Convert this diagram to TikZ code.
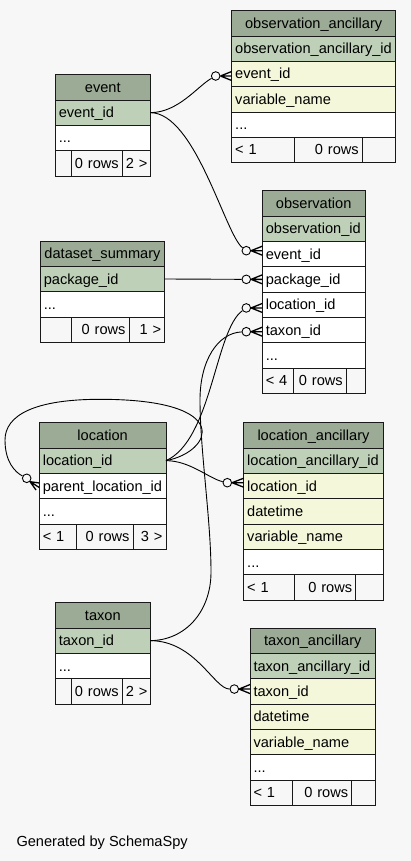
\documentclass[tikz,border=0pt]{standalone}
\usepackage{fontspec}
\setmainfont{Liberation Sans}
\usetikzlibrary{calc}

\definecolor{bg}{HTML}{F7F7F7}
\definecolor{hdr}{HTML}{9BAB96}
\definecolor{pk}{HTML}{BED1B8}
\definecolor{fk}{HTML}{F4F7DA}

\tikzset{
  cell/.style={draw=black!90, line width=0.9pt, inner xsep=3.5pt, inner ysep=0pt,
    text height=10.5pt, text depth=0.5pt, outer sep=0pt,
    font=\fontsize{14.6pt}{16pt}\selectfont},
  head/.style={cell, fill=hdr},
  key/.style={cell, fill=pk},
  fkey/.style={cell, fill=fk},
  plain/.style={cell, fill=white},
  foot/.style={cell, fill=bg},
  rel/.style={draw=black, line width=0.9pt},
  crowarm/.style={draw=black, line width=1.3pt},
  dot/.style={circle, draw=black, line width=0.9pt, fill=bg, minimum size=8.6pt, inner sep=0pt},
}

% one table cell: name, left, top, right, bottom, style, alignment, text
\newcommand\erdcell[8]{%
  \pgfmathsetmacro\erdw{#4-(#2)}%
  \pgfmathsetmacro\erdh{#5-(#3)}%
  \pgfmathsetmacro\erdtw{#4-(#2)-7}%
  \node[#6, minimum width=\erdw pt, minimum height=\erdh pt, text width=\erdtw pt, align=#7]
    (#1) at ({(#2+#4)/2},{(#3+#5)/2}) {\mbox{#8}};%
}

% crow's foot between a circle node and the column it points at
\newcommand\erdcrow[2]{%
  \draw[crowarm] (#1.east) -- (#1.east -| #2.west)
    (#1.east) -- ($(#1.east -| #2.west)+(0,-4.5)$)
    (#1.east) -- ($(#1.east -| #2.west)+(0,4.5)$);%
}

\begin{document}
\begin{tikzpicture}[x=1pt, y=-1pt]
\fill[bg] (0,0) rectangle (411,861);
\useasboundingbox (0,0) rectangle (411,861);

% observation_ancillary
\erdcell{oa-h}{231.7}{10.7}{395.7}{36}{head}{center}{observation\_ancillary}
\erdcell{oa-id}{231.7}{36}{395.7}{61.3}{key}{left}{observation\_ancillary\_id}
\erdcell{oa-event}{231.7}{61.3}{395.7}{86.7}{fkey}{left}{event\_id}
\erdcell{oa-var}{231.7}{86.7}{395.7}{112}{fkey}{left}{variable\_name}
\erdcell{oa-more}{231.7}{112}{395.7}{137.3}{plain}{left}{...}
\erdcell{oa-f1}{231.7}{137.3}{294}{162.7}{foot}{left}{< 1}
\erdcell{oa-f2}{294}{137.3}{362.3}{162.7}{foot}{right}{0 rows}
\erdcell{oa-f3}{362.3}{137.3}{395.7}{162.7}{foot}{right}{}

% event
\erdcell{ev-h}{55.3}{74.7}{150.3}{100}{head}{center}{event}
\erdcell{ev-id}{55.3}{100}{150.3}{125.3}{key}{left}{event\_id}
\erdcell{ev-more}{55.3}{125.3}{150.3}{150.7}{plain}{left}{...}
\erdcell{ev-f1}{55.3}{150.7}{71.3}{176}{foot}{left}{}
\erdcell{ev-f2}{71.3}{150.7}{122.3}{176}{foot}{right}{0 rows}
\erdcell{ev-f3}{122.3}{150.7}{150.3}{176}{foot}{right}{2 >}

% observation
\erdcell{ob-h}{262.3}{190.7}{365}{216}{head}{center}{observation}
\erdcell{ob-id}{262.3}{216}{365}{241.3}{key}{left}{observation\_id}
\erdcell{ob-event}{262.3}{241.3}{365}{266.7}{plain}{left}{event\_id}
\erdcell{ob-pkg}{262.3}{266.7}{365}{292}{plain}{left}{package\_id}
\erdcell{ob-loc}{262.3}{292}{365}{317.3}{plain}{left}{location\_id}
\erdcell{ob-tax}{262.3}{317.3}{365}{342.7}{plain}{left}{taxon\_id}
\erdcell{ob-more}{262.3}{342.7}{365}{368}{plain}{left}{...}
\erdcell{ob-f1}{262.3}{368}{293.7}{393.3}{foot}{left}{< 4}
\erdcell{ob-f2}{293.7}{368}{346.3}{393.3}{foot}{right}{0 rows}
\erdcell{ob-f3}{346.3}{368}{365}{393.3}{foot}{right}{}

% dataset_summary
\erdcell{ds-h}{40.3}{241}{164.7}{266.3}{head}{center}{dataset\_summary}
\erdcell{ds-pkg}{40.3}{266.3}{164.7}{291.7}{key}{left}{package\_id}
\erdcell{ds-more}{40.3}{291.7}{164.7}{317}{plain}{left}{...}
\erdcell{ds-f1}{40.3}{317}{71.3}{342.3}{foot}{left}{}
\erdcell{ds-f2}{71.3}{317}{129}{342.3}{foot}{right}{0 rows}
\erdcell{ds-f3}{129}{317}{164.7}{342.3}{foot}{right}{1 >}

% location
\erdcell{lo-h}{39.3}{422.7}{166}{448}{head}{center}{location}
\erdcell{lo-id}{39.3}{448}{166}{473.3}{key}{left}{location\_id}
\erdcell{lo-parent}{39.3}{473.3}{166}{498.7}{plain}{left}{parent\_location\_id}
\erdcell{lo-more}{39.3}{498.7}{166}{524}{plain}{left}{...}
\erdcell{lo-f1}{39.3}{524}{76.7}{549.3}{foot}{left}{< 1}
\erdcell{lo-f2}{76.7}{524}{133}{549.3}{foot}{right}{0 rows}
\erdcell{lo-f3}{133}{524}{166}{549.3}{foot}{right}{3 >}

% location_ancillary
\erdcell{la-h}{243.7}{422.7}{383.3}{448}{head}{center}{location\_ancillary}
\erdcell{la-id}{243.7}{448}{383.3}{473.3}{key}{left}{location\_ancillary\_id}
\erdcell{la-loc}{243.7}{473.3}{383.3}{498.7}{fkey}{left}{location\_id}
\erdcell{la-dt}{243.7}{498.7}{383.3}{524}{fkey}{left}{datetime}
\erdcell{la-var}{243.7}{524}{383.3}{549.3}{fkey}{left}{variable\_name}
\erdcell{la-more}{243.7}{549.3}{383.3}{574.7}{plain}{left}{...}
\erdcell{la-f1}{243.7}{574.7}{294}{600}{foot}{left}{< 1}
\erdcell{la-f2}{294}{574.7}{355.7}{600}{foot}{right}{0 rows}
\erdcell{la-f3}{355.7}{574.7}{383.3}{600}{foot}{right}{}

% taxon
\erdcell{tx-h}{55.3}{602.7}{150.3}{628}{head}{center}{taxon}
\erdcell{tx-id}{55.3}{628}{150.3}{653.3}{key}{left}{taxon\_id}
\erdcell{tx-more}{55.3}{653.3}{150.3}{678.7}{plain}{left}{...}
\erdcell{tx-f1}{55.3}{678.7}{71.3}{704}{foot}{left}{}
\erdcell{tx-f2}{71.3}{678.7}{122.3}{704}{foot}{right}{0 rows}
\erdcell{tx-f3}{122.3}{678.7}{150.3}{704}{foot}{right}{2 >}

% taxon_ancillary
\erdcell{ta-h}{250}{628}{375.7}{653.3}{head}{center}{taxon\_ancillary}
\erdcell{ta-id}{250}{653.3}{375.7}{678.7}{key}{left}{taxon\_ancillary\_id}
\erdcell{ta-tax}{250}{678.7}{375.7}{704}{fkey}{left}{taxon\_id}
\erdcell{ta-dt}{250}{704}{375.7}{729.3}{fkey}{left}{datetime}
\erdcell{ta-var}{250}{729.3}{375.7}{754.7}{fkey}{left}{variable\_name}
\erdcell{ta-more}{250}{754.7}{375.7}{780}{plain}{left}{...}
\erdcell{ta-f1}{250}{780}{292.7}{805.3}{foot}{left}{< 1}
\erdcell{ta-f2}{292.7}{780}{351.7}{805.3}{foot}{right}{0 rows}
\erdcell{ta-f3}{351.7}{780}{375.7}{805.3}{foot}{right}{}

% optional-many markers
\node[dot] (d1) at ($(oa-event.west)+(-16,2)$) {};
\node[dot] (d2) at ($(ob-event.west)+(-16,-3.3)$) {};
\node[dot] (d3) at ($(ob-pkg.west)+(-16,0)$) {};
\node[dot] (d4) at ($(ob-loc.west)+(-16,3.3)$) {};
\node[dot] (d5) at ($(ob-tax.west)+(-16,1.7)$) {};
\node[dot] (d6) at (26.7,478.3) {};
\node[dot] (d7) at ($(la-loc.west)+(-16.4,-3.3)$) {};
\node[dot] (d8) at ($(ta-tax.west)+(-15.7,-2.3)$) {};

% relationships
\draw[rel] (ev-id.east) .. controls +(28,0) and +(-18,10) .. (d1);
\draw[rel] (ev-id.east) .. controls +(45,0) and +(-21,-16) .. (d2);
\draw[rel] (ds-pkg.east) -- (d3);
\draw[rel] (lo-id.east) .. controls (212,440) and (215,330) .. (d4);
\draw[rel] (tx-id.east) .. controls (185,640.3) and (211,612) .. (211,572)
  .. controls (211,520) and (200,450) .. (200,400)
  .. controls (200,360) and (218,333) .. (d5);
\draw[rel] (lo-id.east) .. controls (212,452) and (236,399.3) .. (100,399.3)
  .. controls (35,399.3) and (5,415) .. (5,440)
  .. controls (5,462) and (15,472) .. (d6);
\draw[rel] (lo-id.east) .. controls +(24,0) and +(-18,-4) .. (d7);
\draw[rel] (tx-id.east) .. controls +(45,0) and +(-20,0) .. (d8);

\erdcrow{d1}{oa-event}
\erdcrow{d2}{ob-event}
\erdcrow{d3}{ob-pkg}
\erdcrow{d4}{ob-loc}
\erdcrow{d5}{ob-tax}
\erdcrow{d7}{la-loc}
\erdcrow{d8}{ta-tax}
\draw[crowarm] (d6.south east) -- (39.3,483) (d6.south east) -- (39.3,487.5) (d6.south east) -- (36,490);

\node[font=\fontsize{14.6pt}{16pt}\selectfont, anchor=base west, inner sep=0pt] (credit) at (16.3,846) {Generated by SchemaSpy};
\end{tikzpicture}
\end{document}
